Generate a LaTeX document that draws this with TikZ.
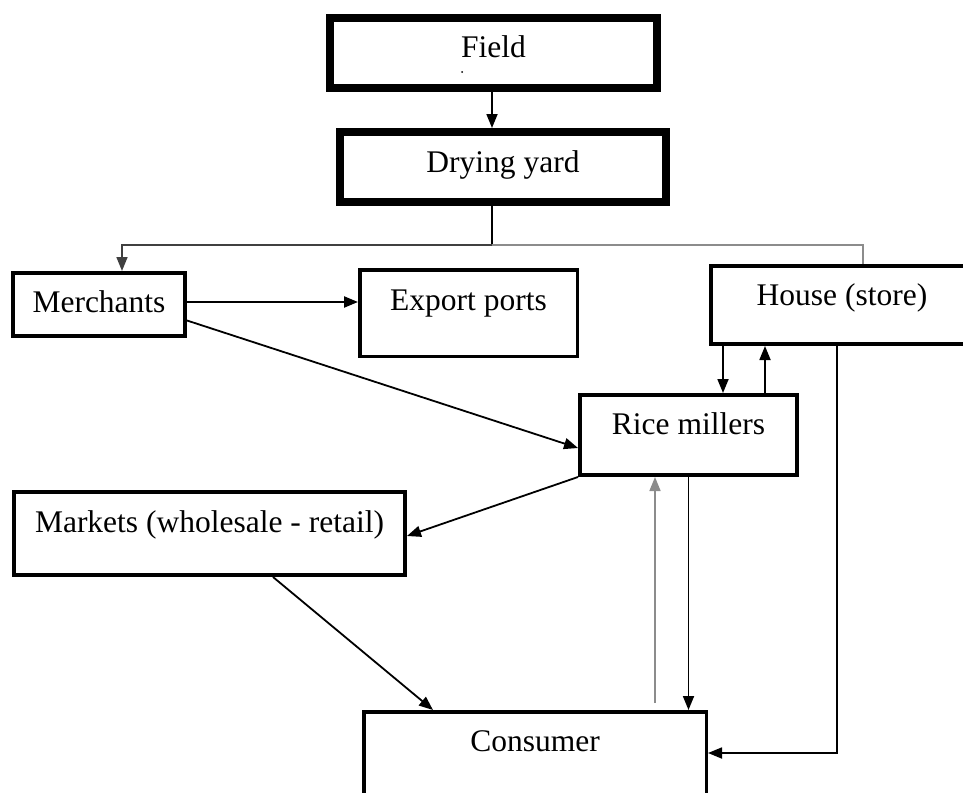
\documentclass[tikz,border=0pt]{standalone}
\usepackage{fontspec}
\setmainfont{Liberation Serif}
\usetikzlibrary{arrows.meta}
\begin{document}
\begin{tikzpicture}[x=1pt,y=-1pt,
  box/.style={draw, line width=4pt, rectangle, inner sep=0pt, font=\fontsize{31.5}{37}\selectfont},
  thickbox/.style={box, line width=8pt},
  tb/.style 2 args={text height=#1pt, text depth=#2pt},
  conn/.style={line width=1.8pt},
  tip/.style={-{Triangle[length=14pt,width=11pt]}},
  arr/.style={conn, tip},
  grayline/.style={line width=1.6pt, draw=black!45},
]
\useasboundingbox (0,0) rectangle (963,792);
\clip (0,0) rectangle (963,792);

% boxes
\node[thickbox, tb={27}{17}, minimum width=327pt, minimum height=70pt] (field) at (493.5,53) {Field};
\node[thickbox, tb={27}{17}, minimum width=326pt, minimum height=70pt] (drying) at (503,167) {Drying yard};
\node[box, tb={29.5}{14.5}, minimum width=172pt, minimum height=63pt] (merchants) at (99,304.5) {Merchants};
\node[box, line width=3.5pt, tb={19}{25}, minimum width=217.5pt, minimum height=86.5pt] (export) at (468.5,313) {Export ports};
\node[box, tb={22}{22}, minimum width=262pt, minimum height=78pt] (house) at (842,305) {House (store)};
\node[box, tb={21}{23}, minimum width=217pt, minimum height=80pt] (rice) at (688.5,435) {Rice millers};
\node[box, tb={20.5}{23.5}, minimum width=391pt, minimum height=83pt] (markets) at (209.5,533.5) {Markets (wholesale - retail)};
\node[box, line width=3.5pt, tb={18}{26}, minimum width=342.5pt, minimum height=86.5pt] (consumer) at (535,755) {Consumer};

% small dot under Field
\fill (462,72) circle (1pt);

% junction coordinates
\coordinate (j) at (492,245);
\coordinate (jl) at (122,245);
\coordinate (jr) at (863,245);

% connectors
\draw[arr] ([xshift=-1.5pt]field.south) -- ([xshift=-1.5pt]field.south |- drying.north);
\draw[conn, line width=1.5pt] (j |- drying.south) -- (j);
\draw[line width=1.6pt, draw=black!75, tip] (j) -- (jl) -- (jl |- merchants.north);
\draw[grayline] (j) -- (jr) -- (jr |- house.north);
\draw[arr, line width=2.2pt] ([yshift=2.5pt]merchants.east) -- ([yshift=2.5pt]merchants.east -| export.west);
\draw[arr] ([yshift=-16pt]merchants.east) -- ([yshift=-13pt]rice.west);
\draw[arr] ([xshift=-119pt]house.south) -- ([xshift=-119pt]house.south |- rice.north);
\draw[arr] ([xshift=-77pt]house.south |- rice.north) -- ([xshift=-77pt]house.south);
\draw[arr] ([xshift=-5pt]house.south) |- ([yshift=2pt]consumer.east);
\draw[arr] (rice.south west) -- ([yshift=-2.5pt]markets.east);
\draw[arr] ([xshift=63.5pt]markets.south) -- ([xshift=-102pt]consumer.north);
\draw[arr] (rice.south) -- (rice.south |- consumer.north);
\draw[grayline, tip] ([xshift=-33.5pt,yshift=7pt]rice.south |- consumer.north) -- ([xshift=-33.5pt]rice.south);
\end{tikzpicture}
\end{document}
